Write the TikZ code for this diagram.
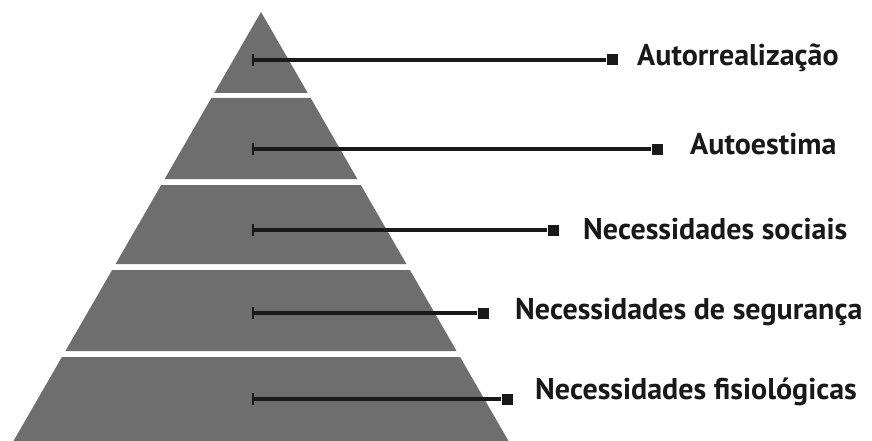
\documentclass[tikz,border=0pt]{standalone}
\usepackage{fontspec}
\setmainfont{PT Sans}
\begin{document}
\begin{tikzpicture}[x=1pt,y=-1pt]
				\tikzstyle{band}=[fill=black!57]
				\tikzstyle{tip}=[rectangle,fill=black!90,minimum size=11pt,inner sep=0pt]
				\tikzstyle{edge}=[draw=black!90, line width=3.5pt]
				\tikzstyle{tick}=[draw=black!90, line width=2pt]
				\tikzstyle{lbl}=[anchor=west,inner sep=0pt,font=\fontsize{30}{34}\selectfont\bfseries,text=black!90]

				\useasboundingbox (0,0) rectangle (872,441);

				% pyramid bands
				\foreach \t/\b in {12/93, 98/179, 185/264, 270/351, 357/441}
					\fill[band] ({261-(\t-12)*0.577},\t) -- ({261+(\t-12)*0.577},\t)
						-- ({261+(\b-12)*0.577},\b) -- ({261-(\b-12)*0.577},\b) -- cycle;

				% ticks and end squares
				\foreach \n/\y/\x in {a/60/612, b/149/657, c/230/553, d/313/483, e/399/507} {
					\coordinate (s\n) at (253,\y);
					\node [tip] (t\n) at (\x,\y) {};
					\path[tick] (253,\y-6) -- (253,\y+6);
					\path[edge] (s\n) -- (t\n);
				}

				\node [lbl] (la) at (637,58) {Autorrealização};
				\node [lbl] (lb) at (690,144) {Autoestima};
				\node [lbl] (lc) at (583,229) {Necessidades sociais};
				\node [lbl] (ld) at (515,312) {Necessidades de segurança};
				\node [lbl] (le) at (535,392) {Necessidades fisiológicas};
\end{tikzpicture}
\end{document}
